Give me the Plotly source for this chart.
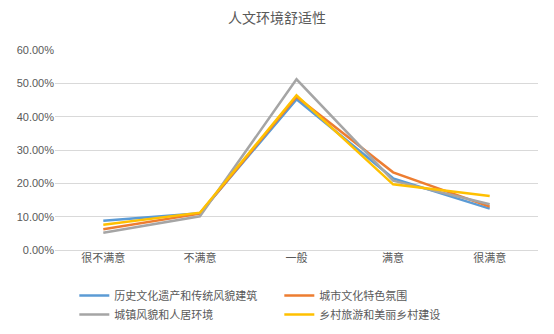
import plotly.graph_objects as go

categories = ["很不满意", "不满意", "一般", "满意", "很满意"]

heritage = [0.088, 0.110, 0.452, 0.215, 0.124]      # 历史文化遗产和传统风貌建筑
city_culture = [0.062, 0.109, 0.460, 0.233, 0.130]  # 城市文化特色氛围
townscape = [0.052, 0.101, 0.512, 0.208, 0.137]     # 城镇风貌和人居环境
rural = [0.076, 0.112, 0.464, 0.197, 0.162]         # 乡村旅游和美丽乡村建设

series_names = ["历史文化遗产和传统风貌建筑", "城市文化特色氛围", "城镇风貌和人居环境", "乡村旅游和美丽乡村建设"]
series_values = [heritage, city_culture, townscape, rural]
series_colors = ["#5B9BD5", "#ED7D31", "#A5A5A5", "#FFC000"]

y_ticks = [0, 0.1, 0.2, 0.3, 0.4, 0.5, 0.6]

font_cjk = "Noto Sans CJK SC"
text_color = "#595959"

fig = go.Figure()
for name, vals, color in zip(series_names, series_values, series_colors):
    fig.add_trace(go.Scatter(
        x=categories, y=vals, name=name, mode="lines",
        line=dict(color=color, width=2.5),
    ))

fig.update_layout(
    width=554, height=334,
    margin=dict(l=55, r=16, t=50, b=84, autoexpand=False),
    paper_bgcolor="white", plot_bgcolor="white",
    title=dict(text="人文环境舒适性", x=0.5, xanchor="center", y=0.945, yanchor="middle",
               font=dict(family=font_cjk, size=14, color=text_color)),
    font=dict(family=font_cjk, size=11, color=text_color),
    showlegend=True,
    legend=dict(orientation="h", x=0.04, xanchor="left", y=-0.155, yanchor="top",
                entrywidth=160, entrywidthmode="pixels", tracegroupgap=0,
                font=dict(family=font_cjk, size=11, color=text_color),
                itemwidth=30),
)
fig.update_xaxes(
    type="category", range=[-0.5, 4.5], showgrid=False, showline=False, zeroline=False,
    ticks="", tickfont=dict(family=font_cjk, size=11, color=text_color),
)
fig.update_yaxes(
    range=[0, 0.6], tickvals=y_ticks, tickformat=".2%",
    showgrid=True, gridcolor="#D9D9D9", gridwidth=1,
    zeroline=True, zerolinecolor="#D9D9D9", zerolinewidth=1,
    showline=False, ticks="",
    tickfont=dict(family="Liberation Sans", size=11, color=text_color),
)

fig.write_html("out.html")
